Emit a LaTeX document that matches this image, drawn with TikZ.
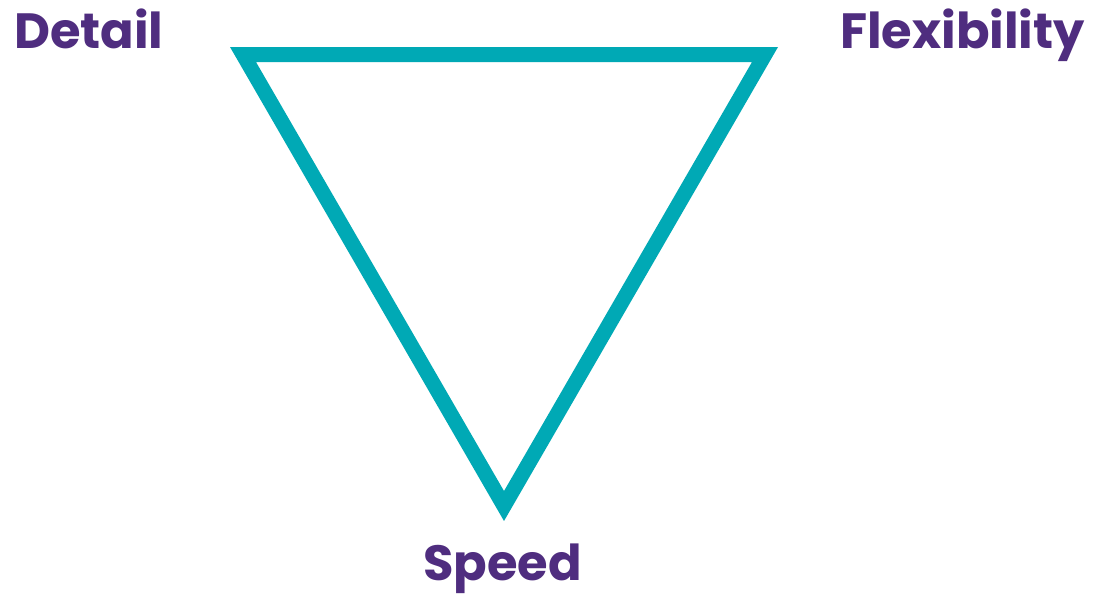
\documentclass[tikz,border=0pt]{standalone}
\usepackage{fontspec}
\setmainfont{Poppins}[BoldFont={* Bold}]
\definecolor{teal1}{HTML}{00A9B5}
\definecolor{purp}{HTML}{4F2D7F}
\begin{document}
\begin{tikzpicture}[x=1pt,y=-1pt,
  lbl/.style={text=purp,font=\fontsize{49.5}{58}\selectfont\bfseries,inner sep=0pt,anchor=base west}]
\useasboundingbox[fill=white] (0,0) rectangle (1094,595);
\coordinate (tl) at (243,54.5);
\coordinate (tr) at (765,54.5);
\coordinate (bt) at (504,506);
\draw[teal1,line width=15pt,line join=miter] (tl) -- (tr) -- (bt) -- cycle;
\node[lbl] (detail) at (14,48) {Detail};
\node[lbl] (flex) at (840,48) {Flexibility};
\node[lbl] (speed) at (423,580) {Speed};
\end{tikzpicture}
\end{document}
